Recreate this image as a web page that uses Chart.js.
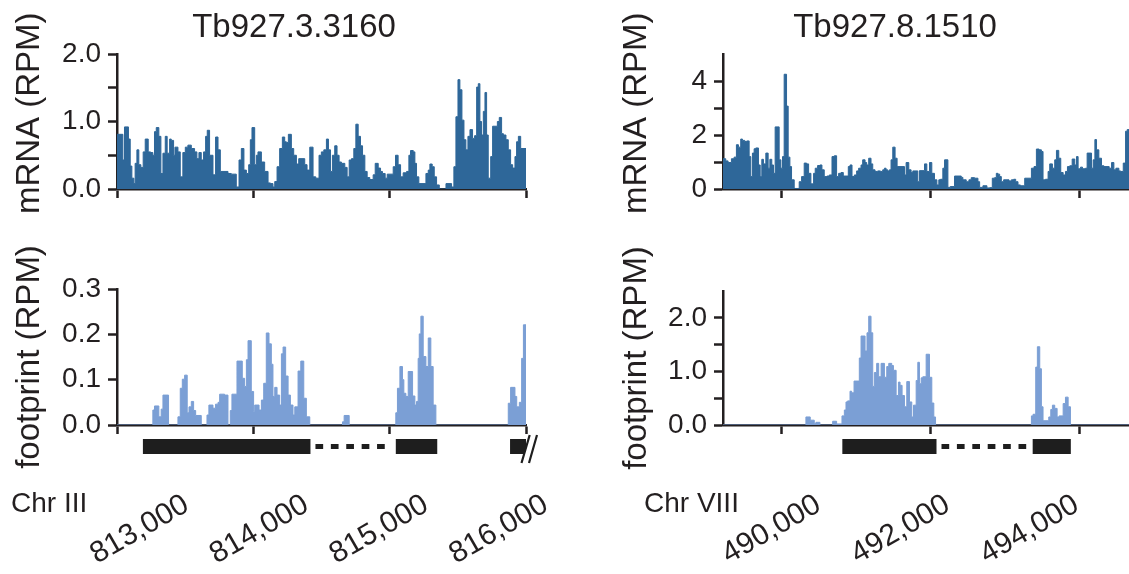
<!DOCTYPE html>
<html>
<head>
<meta charset="utf-8">
<script src="https://cdn.jsdelivr.net/npm/chart.js@4.4.1/dist/chart.umd.min.js"></script>
<style>
  html, body { margin: 0; padding: 0; background: #fff; overflow: hidden; }
  body { width: 1129px; height: 574px; position: relative; font-family: 'Liberation Sans', Arial, sans-serif; color: #231f20; }
  canvas { position: absolute; }
  .gene { position: absolute; top: 9px; font-size: 33px; line-height: 1; white-space: nowrap; transform: translateX(-50%); }
  .chr { position: absolute; top: 489px; font-size: 28px; line-height: 1; white-space: nowrap; }
</style>
</head>
<body>
<canvas id="mrnaLeft" width="560" height="230" style="left:0;top:0"></canvas>
<canvas id="footLeft" width="560" height="344" style="left:0;top:230px"></canvas>
<canvas id="mrnaRight" width="529" height="230" style="left:600px;top:0"></canvas>
<canvas id="footRight" width="529" height="344" style="left:600px;top:230px"></canvas>
<div class="gene" style="left:294px">Tb927.3.3160</div>
<div class="gene" style="left:895px">Tb927.8.1510</div>
<div class="chr" style="left:11px">Chr III</div>
<div class="chr" style="left:644px">Chr VIII</div>
<script>
// Tb927.3.3160 (Chr III) - bin start positions (last entry = end of window) and RPM
const mrna3160Pos = [813000, 813043, 813055, 813084, 813097, 813109, 813124, 813133, 813146, 813160,
  813175, 813192, 813207, 813229, 813246, 813263, 813275, 813288, 813307, 813322,
  813337, 813354, 813368, 813386, 813398, 813415, 813425, 813447, 813464, 813483,
  813501, 813520, 813545, 813569, 813586, 813601, 813618, 813635, 813650, 813662,
  813679, 813704, 813723, 813741, 813758, 813814, 813838, 813875, 813895, 813912,
  813931, 813949, 813966, 813978, 813990, 814010, 814022, 814034, 814059, 814083,
  814108, 814125, 814144, 814157, 814174, 814193, 814213, 814230, 814242, 814257,
  814279, 814296, 814316, 814333, 814377, 814394, 814414, 814438, 814458, 814482,
  814499, 814517, 814536, 814551, 814566, 814580, 814597, 814614, 814629, 814646,
  814671, 814688, 814703, 814720, 814737, 814752, 814769, 814786, 814801, 814818,
  814835, 814854, 814879, 814894, 814916, 814933, 814947, 814967, 814982, 815026,
  815043, 815062, 815080, 815099, 815124, 815141, 815153, 815173, 815185, 815197,
  815214, 815266, 815283, 815295, 815312, 815327, 815344, 815364, 815413, 815454,
  815471, 815486, 815501, 815515, 815530, 815545, 815559, 815574, 815589, 815608,
  815623, 815638, 815650, 815662, 815674, 815687, 815699, 815711, 815723, 815741,
  815755, 815790, 815804, 815821, 815834, 815853, 815870, 815887, 815902, 815919,
  815931, 815944, 815961, 816000];
const mrna3160Val = [0.81, 0.43, 0.92, 0.74, 0.34, 0.16, 0.08, 0.38, 0.58, 0.36,
  0.32, 0.55, 0.74, 0.55, 0.54, 0.50, 0.85, 0.91, 0.78, 0.23,
  0.53, 0.78, 0.53, 0.74, 0.72, 0.50, 0.62, 0.55, 0.18, 0.54,
  0.62, 0.65, 0.60, 0.55, 0.45, 0.54, 0.43, 0.55, 0.78, 0.87,
  0.50, 0.21, 0.77, 0.58, 0.26, 0.23, 0.22, 0.03, 0.43, 0.60,
  0.28, 0.23, 0.36, 0.73, 0.91, 0.36, 0.50, 0.55, 0.40, 0.26,
  0.09, 0.08, 0.03, 0.11, 0.33, 0.60, 0.77, 0.70, 0.69, 0.81,
  0.60, 0.50, 0.37, 0.45, 0.36, 0.28, 0.62, 0.18, 0.16, 0.50,
  0.55, 0.58, 0.74, 0.58, 0.26, 0.50, 0.64, 0.50, 0.40, 0.38,
  0.32, 0.18, 0.43, 0.45, 0.60, 0.96, 0.78, 0.64, 0.50, 0.26,
  0.17, 0.14, 0.21, 0.38, 0.31, 0.26, 0.23, 0.16, 0.22, 0.33,
  0.50, 0.36, 0.18, 0.24, 0.26, 0.50, 0.57, 0.55, 0.38, 0.18,
  0.08, 0.23, 0.28, 0.37, 0.33, 0.18, 0.06, 0.00, 0.08, 0.03,
  0.33, 1.07, 1.62, 1.47, 1.02, 0.73, 0.58, 0.78, 0.88, 0.75,
  0.79, 1.51, 1.56, 1.00, 0.80, 1.15, 1.43, 0.80, 0.16, 0.48,
  0.93, 1.00, 1.06, 0.82, 0.80, 0.73, 0.58, 0.36, 0.31, 0.48,
  0.70, 0.78, 0.60];
const foot3160Pos = [813000, 813263, 813275, 813307, 813324, 813337, 813378, 813447, 813464, 813479,
  813496, 813515, 813528, 813545, 813562, 813577, 813618, 813660, 813674, 813704,
  813723, 813741, 813753, 813789, 813814, 813831, 813843, 813880, 813919, 813936,
  813949, 813961, 813985, 814002, 814010, 814042, 814059, 814076, 814095, 814115,
  814132, 814144, 814157, 814174, 814193, 814206, 814218, 814237, 814255, 814272,
  814291, 814304, 814328, 814348, 814370, 814389, 814414, 814654, 814666, 814703,
  815045, 815057, 815075, 815094, 815104, 815119, 815136, 815168, 815185, 815197,
  815209, 815217, 815229, 815246, 815266, 815283, 815302, 815319, 815339, 815870,
  815887, 815919, 815932, 815951, 815968, 815981, 816000];
const foot3160Val = [0, 0.033, 0.042, 0.018, 0.035, 0.066, 0, 0.018, 0.081, 0.101,
  0.11, 0.027, 0.04, 0.052, 0.032, 0.021, 0, 0.022, 0.044, 0.037,
  0.046, 0.05, 0.068, 0.066, 0, 0.032, 0.068, 0.141, 0.103, 0.085,
  0.144, 0.186, 0.074, 0.03, 0.044, 0.033, 0.055, 0.092, 0.203, 0.179,
  0.134, 0.063, 0.083, 0.066, 0.044, 0.157, 0.172, 0.108, 0.066, 0.044,
  0.022, 0.04, 0.119, 0.141, 0.059, 0.018, 0, 0.007, 0.021, 0,
  0.027, 0.081, 0.129, 0.1, 0.07, 0.063, 0.118, 0.064, 0.044, 0.052,
  0.147, 0.201, 0.24, 0.151, 0.129, 0.192, 0.129, 0.044, 0, 0.048,
  0.083, 0.063, 0.04, 0.05, 0.147, 0.221];
const exons3160 = [[813190, 814419], [815045, 815349], [815883, 816000]];
const introns3160 = [[814419, 815045]];
const ticks3160 = [813000, 814000, 815000, 816000];
const tickLabels3160 = ['813,000', '814,000', '815,000', '816,000'];

// Tb927.8.1510 (Chr VIII)
const mrna1510Pos = [489210, 489247, 489278, 489323, 489359, 489390, 489417, 489448, 489471, 489502,
  489529, 489561, 489583, 489605, 489628, 489650, 489686, 489709, 489731, 489753,
  489785, 489816, 489839, 489865, 489888, 489910, 489964, 489987, 490009, 490031,
  490063, 490085, 490108, 490130, 490166, 490233, 490265, 490300, 490332, 490359,
  490390, 490426, 490448, 490480, 490511, 490538, 490569, 490605, 490637, 490673,
  490704, 490735, 490762, 490794, 490825, 490892, 490915, 490942, 490973, 491004,
  491031, 491063, 491085, 491117, 491139, 491166, 491197, 491220, 491251, 491287,
  491323, 491354, 491377, 491399, 491421, 491444, 491466, 491489, 491520, 491547,
  491646, 491668, 491704, 491735, 491758, 491825, 491847, 491915, 491946, 491982,
  492013, 492049, 492081, 492107, 492130, 492161, 492184, 492229, 492260, 492318,
  492408, 492430, 492475, 492511, 492542, 492587, 492632, 492655, 492699, 492753,
  492789, 492825, 492856, 492879, 492901, 492924, 492946, 492977, 493049, 493081,
  493112, 493139, 493170, 493202, 493260, 493350, 493385, 493417, 493453, 493484,
  493506, 493538, 493574, 493596, 493632, 493663, 493686, 493717, 493744, 493776,
  493807, 493834, 493865, 493897, 493932, 493955, 493977, 494009, 494036, 494076,
  494098, 494157, 494179, 494202, 494224, 494255, 494291, 494323, 494394, 494426,
  494457, 494484, 494524, 494547, 494583, 494614, 494636, 494660];
const mrna1510Val = [1.12, 1.04, 0.98, 1.12, 1.18, 1.64, 1.55, 1.85, 1.80, 1.76,
  1.78, 1.20, 0.46, 1.33, 1.49, 1.52, 0.89, 0.46, 1.10, 0.93,
  1.33, 0.77, 1.10, 0.89, 0.58, 2.30, 1.08, 0.77, 1.20, 4.25,
  3.07, 1.18, 0.83, 0.34, 0.02, 0.27, 0.46, 0.96, 0.93, 0.58,
  0.19, 0.58, 0.77, 0.87, 0.89, 0.71, 0.46, 0.48, 0.52, 1.20,
  1.23, 0.46, 0.58, 0.61, 0.48, 0.83, 0.89, 0.46, 0.52, 0.67,
  0.77, 0.89, 1.08, 0.98, 0.89, 1.14, 0.93, 0.71, 0.65, 0.67,
  0.65, 0.71, 0.77, 0.71, 0.67, 0.71, 1.08, 1.55, 1.14, 0.83,
  0.52, 0.98, 0.71, 0.61, 0.67, 0.27, 0.68, 0.93, 0.65, 0.98,
  0.58, 0.34, 0.15, 0.34, 0.36, 0.77, 1.08, 0.06, 0.09, 0.48,
  0.43, 0.34, 0.27, 0.34, 0.42, 0.40, 0.27, 0.06, 0.12, 0.04,
  0.05, 0.40, 0.42, 0.58, 0.55, 0.46, 0.27, 0.34, 0.30, 0.34,
  0.36, 0.27, 0.15, 0.12, 0.40, 0.77, 0.83, 1.48, 1.45, 1.39,
  0.34, 0.36, 0.65, 0.93, 0.77, 1.08, 1.43, 1.14, 0.61, 0.52,
  0.65, 0.83, 0.86, 1.11, 0.89, 1.20, 0.75, 0.81, 0.75, 0.77,
  1.33, 0.77, 1.08, 1.83, 1.45, 1.14, 0.86, 0.83, 0.77, 0.98,
  0.71, 0.77, 0.67, 0.65, 0.96, 2.14, 2.20];
const foot1510Pos = [489210, 490323, 490381, 490435, 490457, 490511, 490682, 490735, 490807, 490839,
  490861, 490883, 490915, 490937, 490969, 491040, 491063, 491117, 491143, 491166,
  491197, 491220, 491242, 491273, 491300, 491332, 491377, 491408, 491435, 491475,
  491498, 491534, 491565, 491587, 491614, 491646, 491677, 491713, 491744, 491767,
  491803, 491825, 491847, 491870, 491892, 491937, 491982, 492013, 492040, 492063,
  493350, 493372, 493408, 493430, 493462, 493484, 493506, 493583, 493610, 493632,
  493663, 493695, 493722, 493776, 493807, 493843, 493874, 494660];
const foot1510Val = [0, 0.15, 0.09, 0.03, 0.05, 0, 0.07, 0.02, 0.17, 0.28,
  0.43, 0.45, 0.63, 0.60, 0.82, 1.25, 1.66, 1.38, 1.72, 2.03,
  1.72, 0.72, 0.98, 1.15, 0.90, 1.15, 0.89, 1.09, 1.15, 1.11,
  1.02, 0.55, 0.80, 0.74, 0.55, 0.34, 0.81, 0.43, 0.15, 0.37,
  0.83, 1.17, 0.77, 0.88, 0.90, 1.32, 0.89, 0.41, 0.15, 0,
  0.17, 0.20, 1.08, 1.46, 1.05, 0.34, 0.08, 0.15, 0.29, 0.37,
  0.31, 0.15, 0.17, 0.40, 0.52, 0.34, 0];
const exons1510 = [[490812, 492076], [493367, 493879]];
const introns1510 = [[492076, 493367]];
const ticks1510 = [490000, 492000, 494000];
const tickLabels1510 = ['490,000', '492,000', '494,000'];

const mrnaTicks3160 = [0, 0.5, 1, 1.5, 2];
const mrnaLabels3160 = ['0.0', '', '1.0', '', '2.0'];
const footTicks3160 = [0, 0.1, 0.2, 0.3];
const footLabels3160 = ['0.0', '0.1', '0.2', '0.3'];
const mrnaTicks1510 = [0, 1, 2, 3, 4];
const mrnaLabels1510 = ['0', '', '2', '', '4'];
const footTicks1510 = [0, 0.5, 1, 1.5, 2];
const footLabels1510 = ['0.0', '', '1.0', '', '2.0'];

const mrnaColor = '#2e6799';
const footColor = '#7b9fd5';
const ink = '#231f20';
const FONT = "'Liberation Sans', Arial, sans-serif";
Chart.defaults.font.family = FONT;

function steps(pos, vals) {
  // last position closes the final bin
  return pos.map((x, i) => ({ x: x, y: vals[Math.min(i, vals.length - 1)] }));
}

function geneModel(exons, introns, broken) {
  return {
    id: 'geneModel',
    afterDraw(chart) {
      const xs = chart.scales.x;
      const ctx = chart.ctx;
      const top = chart.chartArea.bottom + 14;
      ctx.save();
      ctx.fillStyle = '#1e1e1e';
      exons.forEach(e => {
        const a = xs.getPixelForValue(e[0]);
        const b = xs.getPixelForValue(e[1]);
        ctx.fillRect(a, top, b - a, 15);
      });
      ctx.strokeStyle = '#1e1e1e';
      ctx.lineWidth = 5;
      ctx.setLineDash([7.7, 7.7]);
      introns.forEach(n => {
        const a = xs.getPixelForValue(n[0]) + 5;
        const b = xs.getPixelForValue(n[1]) - 5;
        ctx.beginPath();
        ctx.moveTo(a, top + 7.5);
        ctx.lineTo(b, top + 7.5);
        ctx.stroke();
      });
      ctx.setLineDash([]);
      if (broken) {
        const p = xs.getPixelForValue(xs.max);
        const y0 = top + 24, y1 = top - 4;
        ctx.fillStyle = '#fff';
        ctx.beginPath();
        ctx.moveTo(p - 4.5, y0); ctx.lineTo(p + 3.7, y1);
        ctx.lineTo(p + 11, y1); ctx.lineTo(p + 3, y0);
        ctx.closePath();
        ctx.fill();
        ctx.strokeStyle = '#1e1e1e';
        ctx.lineWidth = 2.2;
        ctx.beginPath();
        ctx.moveTo(p - 4.5, y0); ctx.lineTo(p + 3.7, y1);
        ctx.moveTo(p + 3, y0); ctx.lineTo(p + 11, y1);
        ctx.stroke();
      }
      ctx.restore();
    }
  };
}

function axisLook() {
  return {
    grid: { display: true, drawOnChartArea: false, drawTicks: true, tickLength: 9, tickWidth: 2.5, tickColor: ink },
    border: { display: true, color: ink, width: 2.5 }
  };
}

function panel(id, cfg) {
  const scales = {
    x: Object.assign({
      type: 'linear',
      min: cfg.xMin,
      max: cfg.xMax,
      z: 1,
      afterBuildTicks: s => { s.ticks = cfg.xTicks.map(v => ({ value: v })); },
      afterFit: s => { s.height = 12; s.paddingLeft = 0; s.paddingRight = 0; },
      ticks: { display: false }
    }, axisLook()),
    y: Object.assign({
      type: 'linear',
      min: 0,
      max: cfg.yMax,
      z: 1,
      afterBuildTicks: s => { s.ticks = cfg.yTicks.map(v => ({ value: v })); },
      afterFit: s => { s.width = cfg.yWidth; },
      ticks: {
        autoSkip: false,
        padding: 7,
        color: ink,
        font: { size: 28 },
        callback: (v, i) => cfg.yLabels[i]
      },
      title: {
        display: true,
        text: cfg.yTitle,
        color: ink,
        font: { size: 33 },
        padding: { top: cfg.titlePad, bottom: 0 }
      }
    }, axisLook())
  };
  if (cfg.labelMin !== undefined) {
    // position labels for the chromosome coordinates
    scales.xl = {
      type: 'linear',
      position: 'bottom',
      weight: 1,
      min: cfg.labelMin,
      max: cfg.labelMax,
      afterBuildTicks: s => { s.ticks = cfg.xTicks.map(v => ({ value: v })); },
      afterFit: s => { s.height = 137; s.paddingLeft = 0; s.paddingRight = 0; },
      grid: { display: false, drawTicks: false },
      border: { display: false },
      ticks: {
        autoSkip: false,
        minRotation: 30,
        maxRotation: 30,
        padding: 50,
        color: ink,
        font: { size: 30 },
        callback: (v, i) => cfg.xLabels[i]
      }
    };
  }
  new Chart(document.getElementById(id), {
    type: 'line',
    data: {
      datasets: [{
        data: steps(cfg.pos, cfg.vals),
        stepped: 'before',
        fill: 'origin',
        backgroundColor: cfg.color,
        borderColor: cfg.color,
        borderWidth: 1,
        pointRadius: 0
      }]
    },
    options: {
      responsive: false,
      animation: false,
      events: [],
      layout: { padding: cfg.padding },
      plugins: { legend: { display: false }, tooltip: { enabled: false }, title: { display: false } },
      scales: scales
    },
    plugins: cfg.exons ? [geneModel(cfg.exons, cfg.introns, cfg.broken)] : []
  });
}

panel('mrnaLeft', {
  pos: mrna3160Pos, vals: mrna3160Val, color: mrnaColor,
  xMin: 813000, xMax: 816000, xTicks: ticks3160,
  yMax: 2, yTicks: mrnaTicks3160, yLabels: mrnaLabels3160,
  yTitle: '\u2002mRNA (RPM)', yWidth: 117, titlePad: 10,
  padding: { top: 54, bottom: 29, left: 0, right: 34 }
});

panel('footLeft', {
  pos: foot3160Pos, vals: foot3160Val, color: footColor,
  xMin: 813000, xMax: 816000, xTicks: ticks3160, xLabels: tickLabels3160,
  labelMin: 812418, labelMax: 815835,
  yMax: 0.3, yTicks: footTicks3160, yLabels: footLabels3160,
  yTitle: 'footprint (RPM)', yWidth: 117, titlePad: 10,
  padding: { top: 59, bottom: 0, left: 0, right: 34 },
  exons: exons3160, introns: introns3160, broken: true
});

panel('mrnaRight', {
  pos: mrna1510Pos, vals: mrna1510Val, color: mrnaColor,
  xMin: 489210, xMax: 494660, xTicks: ticks1510,
  yMax: 5, yTicks: mrnaTicks1510, yLabels: mrnaLabels1510,
  yTitle: '\u2002mRNA (RPM)', yWidth: 123, titlePad: 17,
  padding: { top: 54, bottom: 29, left: 0, right: 0 }
});

panel('footRight', {
  pos: foot1510Pos, vals: foot1510Val, color: footColor,
  xMin: 489210, xMax: 494660, xTicks: ticks1510, xLabels: tickLabels1510,
  labelMin: 488518, labelMax: 494812,
  yMax: 2.5, yTicks: footTicks1510, yLabels: footLabels1510,
  yTitle: 'footprint (RPM)', yWidth: 123, titlePad: 17,
  padding: { top: 61, bottom: 0, left: 0, right: 0 },
  exons: exons1510, introns: introns1510, broken: false
});
</script>
</body>
</html>
